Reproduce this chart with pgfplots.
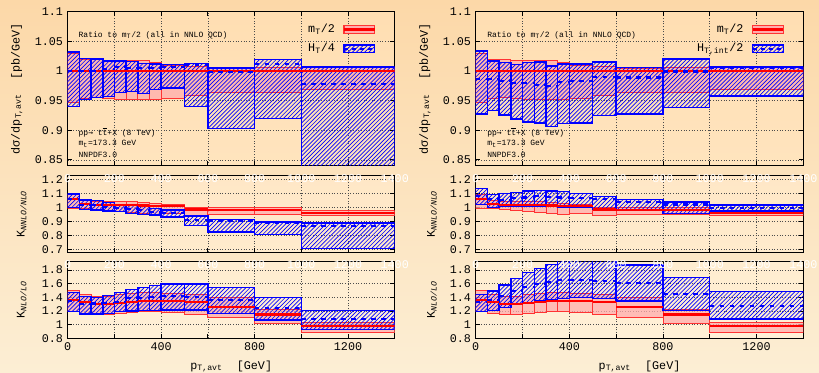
\documentclass[border=0pt]{standalone}
\usepackage{pgfplots}
\pgfplotsset{compat=1.18}
\usepackage{pgfplotstable}
\usepackage{fontspec}
\setmainfont{Liberation Mono}
\newfontfamily\arrowfont{DejaVu Sans Mono}

\definecolor{bgtop}{RGB}{252,216,168}
\definecolor{bgbot}{RGB}{252,238,212}
\definecolor{pinkf}{RGB}{255,172,172}

\newcommand\tickfont{\fontsize{8.8}{10}\selectfont}
\newcommand\notefont{\fontsize{6}{7}\selectfont}

% bins: xa xb lo mid hi
\pgfplotstableread{
xa xb lo mid hi
0 50 0.947 1 1.029
50 100 0.953 1 1.020
100 150 0.955 1 1.019
150 200 0.953 1 1.018
200 250 0.952 1 1.018
250 300 0.952 1 1.017
300 350 0.952 1 1.018
350 400 0.952 1 1.015
400 500 0.953 1 1.010
500 600 0.958 1 1.008
600 800 0.963 1 1.005
800 1000 0.964 1 1.006
1000 1400 0.969 1 1.006
}\redTop
\pgfplotstableread{
xa xb lo mid hi
0 50 0.940 1.000 1.032
50 100 0.952 1.000 1.021
100 150 0.955 1.000 1.020
150 200 0.957 1.003 1.017
200 250 0.964 1.006 1.017
250 300 0.965 1.005 1.016
300 350 0.962 1.005 1.013
350 400 0.969 1.005 1.012
400 500 0.971 1.007 1.011
500 600 0.940 1.010 1.013
600 800 0.903 0.998 1.005
800 1000 0.920 1.012 1.019
1000 1400 0.800 0.978 1.007
}\blueTopL
\pgfplotstableread{
xa xb lo mid hi
0 50 0.927 0.987 1.034
50 100 0.933 0.987 1.017
100 150 0.926 0.983 1.014
150 200 0.919 0.980 1.011
200 250 0.914 0.979 1.014
250 300 0.912 0.976 1.015
300 350 0.906 0.975 1.008
350 400 0.911 0.981 1.012
400 500 0.912 0.983 1.012
500 600 0.925 0.990 1.015
600 800 0.927 0.989 1.006
800 1000 0.938 0.999 1.020
1000 1400 0.958 1.005 1.007
}\blueTopR
\pgfplotstableread{
xa xb lo mid hi
0 50 0.995 1.061 1.090
50 100 0.990 1.026 1.050
100 150 0.985 1.020 1.045
150 200 0.975 1.014 1.043
200 250 0.970 1.014 1.043
250 300 0.966 1.014 1.043
300 350 0.959 1.013 1.038
350 400 0.952 1.012 1.031
400 500 0.955 1.008 1.021
500 600 0.945 0.985 1.002
600 800 0.948 0.980 1.000
800 1000 0.948 0.980 0.998
1000 1400 0.940 0.960 0.975
}\redMid
\pgfplotstableread{
xa xb lo mid hi
0 50 1.000 1.057 1.095
50 100 0.986 1.017 1.052
100 150 0.981 1.020 1.048
150 200 0.974 1.005 1.033
200 250 0.969 0.993 1.021
250 300 0.957 0.986 1.012
300 350 0.950 0.979 1.005
350 400 0.945 0.969 0.993
400 500 0.930 0.958 0.980
500 600 0.871 0.910 0.940
600 800 0.823 0.903 0.912
800 1000 0.807 0.886 0.896
1000 1400 0.706 0.866 0.888
}\blueMidL
\pgfplotstableread{
xa xb lo mid hi
0 50 1.021 1.083 1.136
50 100 0.998 1.057 1.093
100 150 1.005 1.052 1.100
150 200 1.005 1.064 1.107
200 250 1.005 1.071 1.117
250 300 1.005 1.081 1.119
300 350 1.005 1.076 1.117
350 400 1.002 1.071 1.112
400 500 0.998 1.064 1.100
500 600 0.988 1.057 1.076
600 800 0.976 1.040 1.057
800 1000 0.957 1.021 1.040
1000 1400 0.974 0.998 1.017
}\blueMidR
\pgfplotstableread{
xa xb lo mid hi
0 50 1.190 1.360 1.500
50 100 1.166 1.327 1.444
100 150 1.156 1.300 1.420
150 200 1.156 1.300 1.420
200 250 1.166 1.320 1.444
250 300 1.176 1.337 1.459
300 350 1.190 1.346 1.468
350 400 1.190 1.346 1.468
400 500 1.176 1.346 1.459
500 600 1.151 1.327 1.444
600 800 1.100 1.263 1.395
800 1000 1.020 1.150 1.230
1000 1400 0.880 0.978 1.027
}\redBot
\pgfplotstableread{
xa xb lo mid hi
0 50 1.190 1.350 1.473
50 100 1.156 1.300 1.410
100 150 1.156 1.310 1.400
150 200 1.166 1.320 1.424
200 250 1.190 1.337 1.468
250 300 1.200 1.385 1.517
300 350 1.205 1.395 1.546
350 400 1.205 1.410 1.571
400 500 1.215 1.424 1.595
500 600 1.215 1.410 1.595
600 800 1.166 1.360 1.546
800 1000 1.070 1.245 1.400
1000 1400 0.930 1.085 1.204
}\blueBotL
\pgfplotstableread{
xa xb lo mid hi
0 50 1.190 1.337 1.444
50 100 1.205 1.360 1.493
100 150 1.249 1.420 1.580
150 200 1.298 1.490 1.678
200 250 1.327 1.556 1.766
250 300 1.350 1.600 1.824
300 350 1.361 1.630 1.883
350 400 1.385 1.654 1.950
400 500 1.395 1.654 1.950
500 600 1.385 1.644 1.950
600 800 1.350 1.605 1.873
800 1000 1.205 1.444 1.688
1000 1400 1.083 1.278 1.483
}\blueBotR

% hatch fill of one box (decoration only), clipped to the box and to the axis
\newcommand\hatchbox[4]{%
  \begin{scope}
    \clip (rel axis cs:0,0) rectangle (rel axis cs:1,1);
    \clip (axis cs:#1,#2) rectangle (axis cs:#3,#4);
    \draw[blue, line width=0.5pt] \foreach \k in {-42,...,26} {([xshift=\k*3.1pt]axis cs:#1,#2) -- ++(130pt,130pt)};
  \end{scope}}

\newcommand\drawboxes[2]{%
  \pgfplotsforeachungrouped \rr in {0,...,12}{%
    \pgfplotstablegetelem{\rr}{xa}\of{#1}\let\bxA\pgfplotsretval
    \pgfplotstablegetelem{\rr}{xb}\of{#1}\let\bxB\pgfplotsretval
    \pgfplotstablegetelem{\rr}{lo}\of{#1}\let\bLo\pgfplotsretval
    \pgfplotstablegetelem{\rr}{hi}\of{#1}\let\bHi\pgfplotsretval
    \edef\tmp{\noexpand\addplot[#2,forget plot] coordinates {(\bxA,\bLo) (\bxB,\bLo) (\bxB,\bHi) (\bxA,\bHi)} -- cycle;}%
    \tmp
  }%
}
\newcommand\drawhatch[1]{%
  \pgfplotsforeachungrouped \rr in {0,...,12}{%
    \pgfplotstablegetelem{\rr}{xa}\of{#1}\let\bxA\pgfplotsretval
    \pgfplotstablegetelem{\rr}{xb}\of{#1}\let\bxB\pgfplotsretval
    \pgfplotstablegetelem{\rr}{lo}\of{#1}\let\bLo\pgfplotsretval
    \pgfplotstablegetelem{\rr}{hi}\of{#1}\let\bHi\pgfplotsretval
    \edef\tmp{\noexpand\hatchbox{\bxA}{\bLo}{\bxB}{\bHi}}%
    \tmp
  }%
}
\newcommand\drawmids[2]{%
  \pgfplotsforeachungrouped \rr in {0,...,12}{%
    \pgfplotstablegetelem{\rr}{xa}\of{#1}\let\bxA\pgfplotsretval
    \pgfplotstablegetelem{\rr}{xb}\of{#1}\let\bxB\pgfplotsretval
    \pgfplotstablegetelem{\rr}{mid}\of{#1}\let\bMid\pgfplotsretval
    \edef\tmp{\noexpand\addplot[#2,forget plot] coordinates {(\bxA,\bMid) (\bxB,\bMid)};}%
    \tmp
  }%
}
\newcommand\whitetop[1]{%
  \pgfplotsinvokeforeach{0,200,...,1400}{\node[white,font=\tickfont,yshift=-2.5pt] at (axis cs:##1,#1) {##1};}%
}
\newcommand\ttbar{t\(\overline{\mbox{t}}\)}

\pgfplotsset{
  redbox/.style={draw=red!80, line width=0.6pt, fill=pinkf, fill opacity=0.75},
  bluebox/.style={draw=blue, line width=1.1pt},
  redline/.style={red, line width=1.6pt},
  blueline/.style={blue, line width=1.6pt, dash pattern=on 3.5pt off 4pt},
  panel/.style={
    scale only axis, anchor=north west,
    xmin=0, xmax=1400, xtick={0,200,...,1400}, xticklabels={},
    grid=major, grid style={black!70, line width=0.45pt, dash pattern=on 0.8pt off 1.2pt},
    tick align=inside, major tick length=3.5pt, tick style={black, line width=0.6pt},
    axis line style={line width=1.1pt},
    clip mode=individual,
    tick label style={font=\tickfont},
    label style={font=\tickfont},
    /pgf/number format/assume math mode=true,
    legend plot pos=right, legend cell align=right,
    legend style={draw=none, fill=none, font=\tickfont, row sep=2.5pt, column sep=4pt, anchor=north east, at={(rel axis cs:0.955,0.955)}},
  },
  toppanel/.style={panel, height=115.5pt, ymin=0.84, ymax=1.1, ytick={0.85,0.9,0.95,1,1.05,1.1},
    axis background/.style={shade, top color={rgb,255:red,255;green,222;blue,178}, bottom color={rgb,255:red,255;green,228;blue,190}}},
  midpanel/.style={panel, height=57.45pt, ymin=0.679, ymax=1.226, ytick={0.7,0.8,0.9,1,1.1,1.2},
    axis background/.style={shade, top color={rgb,255:red,255;green,231;blue,198}, bottom color={rgb,255:red,255;green,235;blue,205}}},
  botpanel/.style={panel, height=57.45pt, ymin=0.8, ymax=1.922, ytick={0.8,1,1.2,1.4,1.6,1.8},
    axis background/.style={shade, top color={rgb,255:red,255;green,237;blue,208}, bottom color={rgb,255:red,255;green,240;blue,215}}},
  redleg/.style={legend image code/.code={
    \draw[draw=red!80, line width=0.8pt, fill=pinkf] (0pt,-2.7pt) rectangle (23pt,2.7pt);
    \draw[red, line width=1.6pt] (0pt,0pt) -- (23pt,0pt);}},
  blueleg/.style={legend image code/.code={
    \begin{scope}\clip (0pt,-2.7pt) rectangle (23pt,2.7pt);
    \draw[blue, line width=0.5pt] \foreach \k in {-3,...,8} {(\k*3.1pt,-2.7pt) -- ++(6pt,6pt)};
    \end{scope}
    \draw[draw=blue, line width=1.1pt] (0pt,-2.7pt) rectangle (23pt,2.7pt);
    \draw[blue, line width=1.6pt, dash pattern=on 3pt off 3pt] (0pt,0pt) -- (23pt,0pt);}},
}

\begin{document}
\begin{tikzpicture}
\shade[top color=bgtop, bottom color=bgbot] (0,0) rectangle (614.25pt,279pt);
\useasboundingbox (0,0) rectangle (614.25pt,279pt);

% ---------------- left column ----------------
\begin{axis}[toppanel, at={(50.8pt,270.2pt)}, width=245.25pt,
  ylabel={dσ/dp\textsubscript{T,avt}\ \ [pb/GeV]},
  ylabel style={at={(rel axis cs:-0.156,0.5)}, anchor=center}]
\addlegendimage{redleg}\addlegendentry{m\textsubscript{T}/2}
\addlegendimage{blueleg}\addlegendentry{H\textsubscript{T}/4}
\drawboxes{\redTop}{redbox}
\drawhatch{\blueTopL}
\drawboxes{\blueTopL}{bluebox}
\drawmids{\redTop}{redline}
\drawmids{\blueTopL}{blueline}
\node[anchor=west,font=\notefont] at (rel axis cs:0.019,0.849) {Ratio to m\textsubscript{T}/2 (all in NNLO QCD)};
\node[anchor=west,font=\notefont] at (rel axis cs:0.019,0.214) {pp{\arrowfont →} \ttbar+X (8 TeV)};
\node[anchor=west,font=\notefont] at (rel axis cs:0.019,0.141) {m\textsubscript{t}=173.3 GeV};
\node[anchor=west,font=\notefont] at (rel axis cs:0.019,0.069) {NNPDF3.0};
\end{axis}

\begin{axis}[midpanel, at={(50.8pt,147.2pt)}, width=245.25pt,
  ylabel={K\textsubscript{\itshape NNLO/NLO}},
  ylabel style={at={(rel axis cs:-0.141,0.5)}, anchor=center}]
\drawboxes{\redMid}{redbox}
\drawhatch{\blueMidL}
\drawboxes{\blueMidL}{bluebox}
\drawmids{\redMid}{redline}
\drawmids{\blueMidL}{blueline}
\whitetop{1.226}
\end{axis}

\begin{axis}[botpanel, at={(50.8pt,82.7pt)}, width=245.25pt,
  xticklabels={0,,400,,800,,1200,},
  ylabel={K\textsubscript{\itshape NLO/LO}},
  ylabel style={at={(rel axis cs:-0.141,0.5)}, anchor=center},
  xlabel={p\textsubscript{T,avt}\ \ [GeV]},
  xlabel style={at={(rel axis cs:0.5,0)}, anchor=center, yshift=-21pt}]
\drawboxes{\redBot}{redbox}
\drawhatch{\blueBotL}
\drawboxes{\blueBotL}{bluebox}
\drawmids{\redBot}{redline}
\drawmids{\blueBotL}{blueline}
\whitetop{1.922}
\end{axis}

% ---------------- right column ----------------
\begin{axis}[toppanel, at={(356.8pt,270.2pt)}, width=245.7pt,
  ylabel={dσ/dp\textsubscript{T,avt}\ \ [pb/GeV]},
  ylabel style={at={(rel axis cs:-0.155,0.5)}, anchor=center}]
\addlegendimage{redleg}\addlegendentry{m\textsubscript{T}/2}
\addlegendimage{blueleg}\addlegendentry{H\textsubscript{T,int}/2}
\drawboxes{\redTop}{redbox}
\drawhatch{\blueTopR}
\drawboxes{\blueTopR}{bluebox}
\drawmids{\redTop}{redline}
\drawmids{\blueTopR}{blueline}
\node[anchor=west,font=\notefont] at (rel axis cs:0.021,0.849) {Ratio to m\textsubscript{T}/2 (all in NNLO QCD)};
\node[anchor=west,font=\notefont] at (rel axis cs:0.021,0.214) {pp{\arrowfont →} \ttbar+X (8 TeV)};
\node[anchor=west,font=\notefont] at (rel axis cs:0.021,0.141) {m\textsubscript{t}=173.3 GeV};
\node[anchor=west,font=\notefont] at (rel axis cs:0.021,0.069) {NNPDF3.0};
\end{axis}

\begin{axis}[midpanel, at={(356.8pt,147.2pt)}, width=245.7pt,
  ylabel={K\textsubscript{\itshape NNLO/NLO}},
  ylabel style={at={(rel axis cs:-0.134,0.5)}, anchor=center}]
\drawboxes{\redMid}{redbox}
\drawhatch{\blueMidR}
\drawboxes{\blueMidR}{bluebox}
\drawmids{\redMid}{redline}
\drawmids{\blueMidR}{blueline}
\whitetop{1.226}
\end{axis}

\begin{axis}[botpanel, at={(356.8pt,82.7pt)}, width=245.7pt,
  xticklabels={0,,400,,800,,1200,},
  ylabel={K\textsubscript{\itshape NLO/LO}},
  ylabel style={at={(rel axis cs:-0.134,0.5)}, anchor=center},
  xlabel={p\textsubscript{T,avt}\ \ [GeV]},
  xlabel style={at={(rel axis cs:0.5,0)}, anchor=center, yshift=-21pt}]
\drawboxes{\redBot}{redbox}
\drawhatch{\blueBotR}
\drawboxes{\blueBotR}{bluebox}
\drawmids{\redBot}{redline}
\drawmids{\blueBotR}{blueline}
\whitetop{1.922}
\end{axis}
\end{tikzpicture}
\end{document}
